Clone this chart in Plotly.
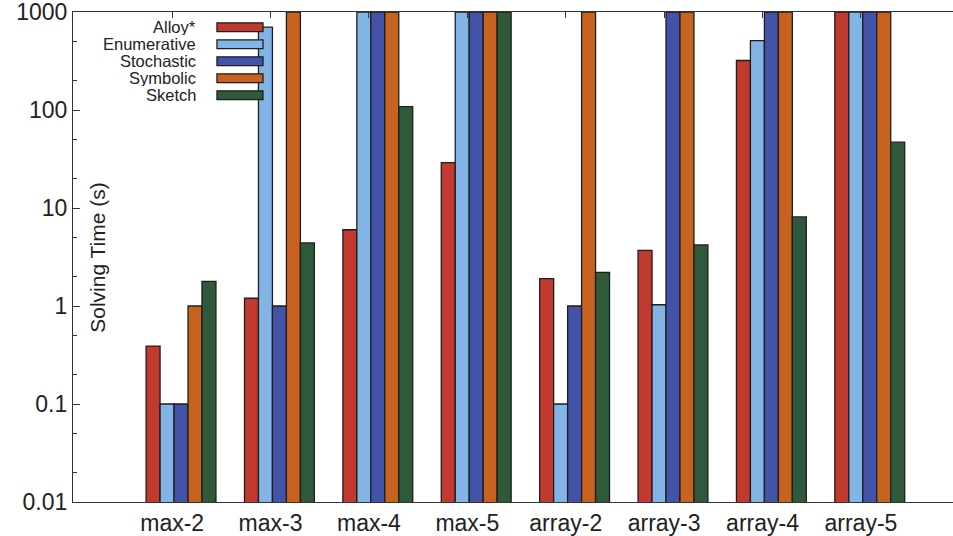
import plotly.graph_objects as go

categories = ["max-2", "max-3", "max-4", "max-5", "array-2", "array-3", "array-4", "array-5"]
series_names = ["Alloy*", "Enumerative", "Stochastic", "Symbolic", "Sketch"]
alloy       = [0.39, 1.2, 6.0, 29, 1.9, 3.7, 320, 1000]
enumerative = [0.1, 700, 1000, 1000, 0.1, 1.03, 510, 1000]
stochastic  = [0.1, 1.0, 1000, 1000, 1.0, 1000, 1000, 1000]
symbolic    = [1.0, 1000, 1000, 1000, 1000, 1000, 1000, 1000]
sketch      = [1.78, 4.4, 108, 1000, 2.2, 4.2, 8.1, 47]
series_values = [alloy, enumerative, stochastic, symbolic, sketch]
colors = ["#C2392F", "#82B5E6", "#4353A8", "#C8621F", "#2E5A3B"]
y_ticks = [0.01, 0.1, 1, 10, 100, 1000]
y_tick_text = ["0.01", "0.1", "1", "10", "100", "1000"]

FONT = "Liberation Sans, Arial, Helvetica, sans-serif"
idx = list(range(len(categories)))

fig = go.Figure()
for name, vals, col in zip(series_names, series_values, colors):
    fig.add_trace(go.Bar(
        x=idx, y=vals, name=name,
        marker=dict(color=col, line=dict(color="#1e1e1e", width=1.3)),
        showlegend=False,
    ))

# custom legend (text on left, swatch on right)
shapes = []
annotations = []
for k, (name, col) in enumerate(zip(series_names, colors)):
    yc = 0.969 - k * 0.0347
    annotations.append(dict(
        x=0.141, y=yc, xref="paper", yref="paper", text=name, showarrow=False,
        xanchor="right", yanchor="middle", height=16, borderpad=0,
        font=dict(family=FONT, size=16.5, color="#222"),
    ))
    shapes.append(dict(
        type="rect", xref="paper", yref="paper",
        x0=0.1636, x1=0.2159, y0=yc - 0.009, y1=yc + 0.009,
        fillcolor=col, line=dict(color="#1e1e1e", width=1.3),
    ))

annotations.append(dict(
    x=0.027, y=0.5, xref="paper", yref="paper", text="Solving Time (s)",
    showarrow=False, textangle=-90, xanchor="center", yanchor="middle",
    font=dict(family=FONT, size=21, color="#222"),
))

minor_vals = []
for d in [0.01, 0.1, 1, 10, 100]:
    minor_vals += [2 * d, 5 * d]

fig.update_layout(
    width=953, height=536,
    margin=dict(l=73, r=0, t=12, b=34),
    plot_bgcolor="white", paper_bgcolor="white",
    barmode="group", bargap=0.29, bargroupgap=0,
    font=dict(family=FONT, color="#222"),
    shapes=shapes, annotations=annotations,
    xaxis=dict(
        range=[-1.098, 7.846],
        tickvals=[i - 0.09 for i in idx], ticktext=categories,
        showline=True, linecolor="#333", linewidth=1.2, mirror=True,
        ticks="", showgrid=False, zeroline=False,
        tickfont=dict(family=FONT, size=23, color="#222"),
    ),
    xaxis2=dict(
        overlaying="x", side="top", matches="x", range=[-1.098, 7.846],
        tickvals=[i - 0.09 for i in idx], showticklabels=False,
        ticks="inside", ticklen=6, tickcolor="#333", showgrid=False,
        zeroline=False, showline=False,
    ),
    yaxis=dict(
        type="log", range=[-2, 3],
        tickvals=y_ticks, ticktext=y_tick_text,
        ticks="inside", ticklen=7, tickcolor="#333",
        minor=dict(tickvals=minor_vals, ticks="inside", ticklen=4, tickcolor="#333", showgrid=False),
        showline=True, linecolor="#333", linewidth=1.2,
        showgrid=False, zeroline=False, ticklabeloverflow="allow",
        tickfont=dict(family=FONT, size=23, color="#222"),
    ),
)
# invisible trace to activate top tick axis
fig.add_trace(go.Scatter(x=[idx[0]], y=[y_ticks[2]], xaxis="x2", mode="markers",
                         marker=dict(opacity=0), showlegend=False, hoverinfo="skip"))

fig.write_html("out.html")
